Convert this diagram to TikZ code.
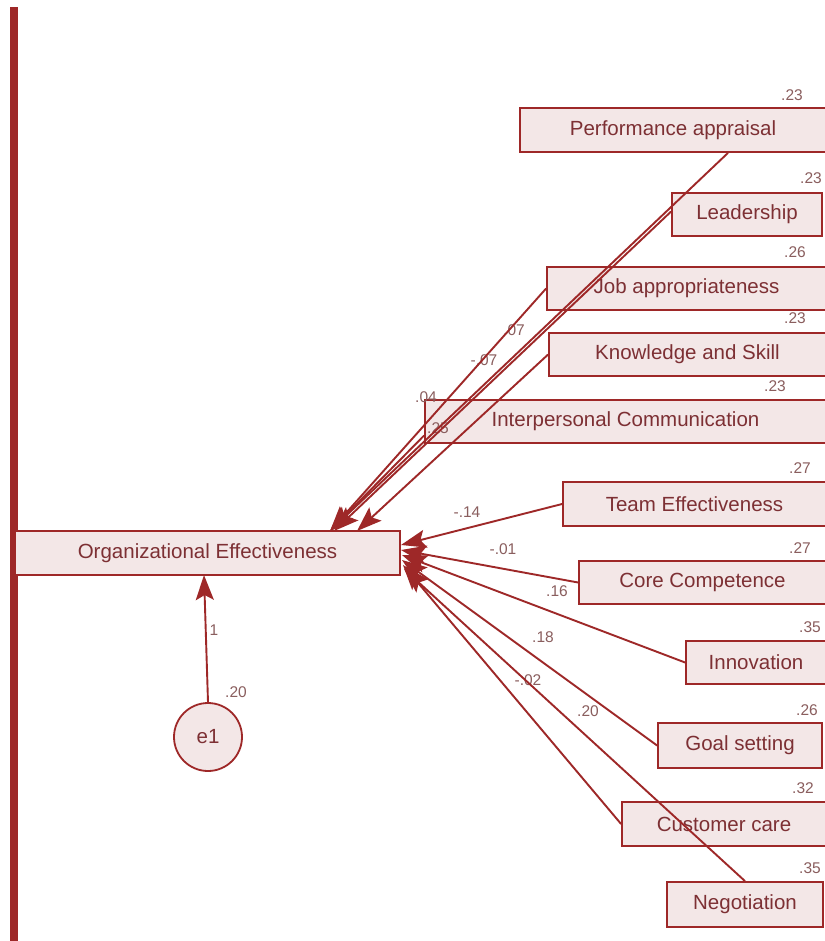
\documentclass[tikz,border=0pt]{standalone}
\usepackage{fontspec}
\setmainfont{Liberation Sans}
\usetikzlibrary{arrows.meta}
\definecolor{dred}{RGB}{158,40,40}
\definecolor{boxfill}{RGB}{243,231,231}
\definecolor{txt}{RGB}{125,48,52}
\definecolor{lbl}{RGB}{138,94,94}
\begin{document}
\begin{tikzpicture}[x=1pt,y=-1pt,
  box/.style={draw=dred, line width=1.8pt, fill=boxfill, inner sep=0pt,
              font=\fontsize{20.5}{24}\selectfont, text=txt},
  conn/.style={draw=dred, line width=1.9pt, -{Stealth[length=25pt,width=18pt,inset=5pt]}},
  num/.style={font=\fontsize{15.5}{18}\selectfont, text=lbl, inner sep=0pt}]
\useasboundingbox (0,0) rectangle (824,941);
\fill[white] (0,0) rectangle (824,941);
\fill[dred] (10,7) rectangle (18,941);

% boxes
\node[box, minimum width=385pt, minimum height=44pt] (oe) at (207.5,553) {Organizational Effectiveness};
\node[box, minimum width=306pt, minimum height=44pt] (pa) at (673,130) {Performance appraisal};
\node[box, minimum width=150pt, minimum height=43pt] (lead) at (747,214.5) {Leadership};
\node[box, minimum width=279pt, minimum height=43pt] (job) at (686.5,288.5) {Job appropriateness};
\node[box, minimum width=277pt, minimum height=43pt] (ks) at (687.5,354.5) {Knowledge and Skill};
\node[box, minimum width=401pt, minimum height=43pt] (ic) at (625.5,421.5) {Interpersonal Communication};
\node[box, minimum width=263pt, minimum height=44pt] (team) at (694.5,504) {Team Effectiveness};
\node[box, minimum width=247pt, minimum height=43pt] (core) at (702.5,582.5) {Core Competence};
\node[box, minimum width=140pt, minimum height=43pt] (innov) at (756,662.5) {Innovation};
\node[box, minimum width=164pt, minimum height=45pt] (goal) at (740,745.5) {Goal setting};
\node[box, minimum width=204pt, minimum height=44pt] (cust) at (724,824) {Customer care};
\node[box, minimum width=156pt, minimum height=45pt] (neg) at (745,904.5) {Negotiation};
\node[box, circle, minimum size=68pt] (e1) at (208,737) {e1};

% variance labels
\node[num] (v1) at (792,95) {.23};
\node[num] (v2) at (811,178) {.23};
\node[num] (v3) at (795,252) {.26};
\node[num] (v4) at (795,318) {.23};
\node[num] (v5) at (775,386) {.23};
\node[num] (v6) at (800,468) {.27};
\node[num] (v7) at (800,548) {.27};
\node[num] (v8) at (810,627) {.35};
\node[num] (v9) at (807,710) {.26};
\node[num] (v10) at (803,788) {.32};
\node[num] (v11) at (810,868) {.35};
\node[num] (v12) at (236,692) {.20};
\node[num] (w0) at (214,630) {1};

% path labels
\node[num] (w1) at (514,330) {.07};
\node[num] (w2) at (484,360) {-.07};
\node[num] (w3) at (426,397) {.04};
\node[num] (w4) at (438,428) {.25};
\node[num] (w5) at (467,512) {-.14};
\node[num] (w6) at (503,549) {-.01};
\node[num] (w7) at (557,591) {.16};
\node[num] (w8) at (543,637) {.18};
\node[num] (w9) at (528,680) {-.02};
\node[num] (w10) at (588,711) {.20};

% arrow targets on the outcome box
\coordinate (a1) at (330,531);
\coordinate (a2) at (334,531);
\coordinate (a3) at (357,531);
\coordinate (r1) at (401,545);
\coordinate (r2) at (401,550);
\coordinate (r3) at (402,555);
\coordinate (r4) at (402,560);
\coordinate (r5) at (403,565);
\coordinate (r6) at (404,569);
\coordinate (oeb) at (204,575);

% connectors
\draw[conn] ([xshift=55pt]pa.south) -- (a1);
\draw[conn] ([yshift=3pt]lead.west) -- (a2);
\draw[conn] (job.west) -- (a1);
\draw[conn] (ks.west) -- (a3);
\draw[conn] ([yshift=-14pt]ic.west) -- (a1);
\draw[conn] (team.west) -- (r1);
\draw[conn] (core.west) -- (r2);
\draw[conn] (innov.west) -- (r3);
\draw[conn] (goal.west) -- (r4);
\draw[conn] (cust.west) -- (r5);
\draw[conn] (neg.north) -- (r6);
\draw[conn] (e1.north) -- (oeb);
\end{tikzpicture}
\end{document}
